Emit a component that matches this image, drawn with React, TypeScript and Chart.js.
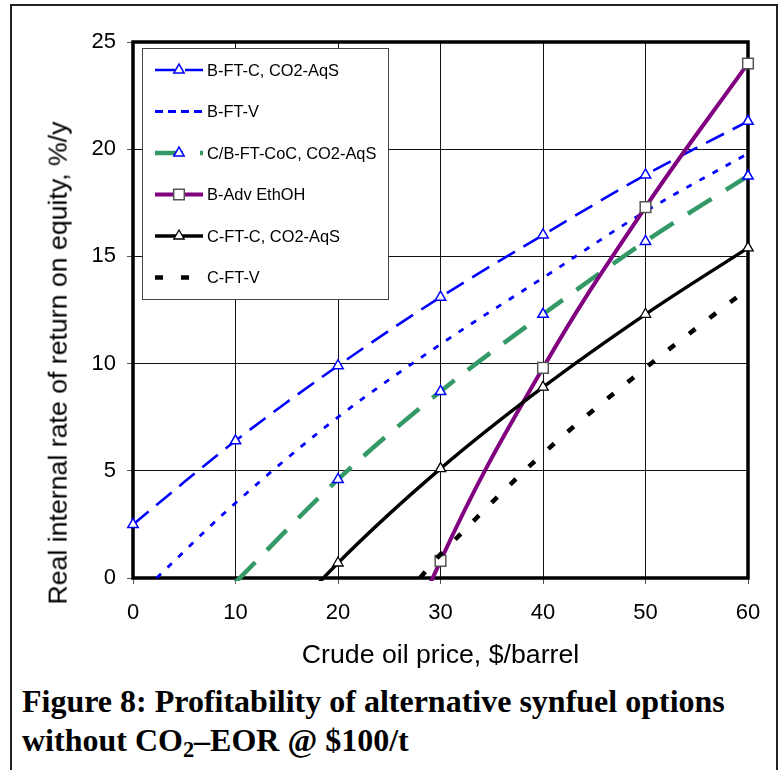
import React, { useEffect, useRef } from "react";
import { Chart, registerables } from "chart.js";

Chart.register(...registerables);

// ---------- data ----------
const seriesNames = [
  "B-FT-C, CO2-AqS",
  "B-FT-V",
  "C/B-FT-CoC, CO2-AqS",
  "B-Adv EthOH",
  "C-FT-C, CO2-AqS",
  "C-FT-V",
];

const bftcPrice = [0, 10, 20, 30, 40, 50, 60];
const bftcIrr = [2.5, 6.4, 9.9, 13.1, 16.0, 18.8, 21.3];

const bftvPrice = [2.3, 10, 20, 30, 40, 50, 60];
const bftvIrr = [0, 3.5, 7.5, 10.9, 14.0, 17.1, 19.8];

const cbPrice = [10, 20, 30, 40, 50, 60];
const cbIrr = [-0.2, 4.6, 8.7, 12.3, 15.7, 18.75];

const ethPrice = [20, 30, 40, 50, 60];
const ethIrr = [-11, 0.8, 9.8, 17.3, 24.0];

const cftcPrice = [10, 20, 30, 40, 50, 60];
const cftcIrr = [-4.5, 0.7, 5.1, 8.9, 12.3, 15.4];

const cftvPrice = [28, 30, 40, 50, 60];
const cftvIrr = [0, 1.1, 5.8, 9.8, 13.5];

const xMin = 0;
const xMax = 60;
const xStep = 10;
const yMin = 0;
const yMax = 25;
const yStep = 5;

const xTitle = "Crude oil price, $/barrel";
const yTitle = "Real internal rate of return on equity, %/y";

// ---------- helpers ----------
const pts = (xs: number[], ys: number[]) => xs.map((x, i) => ({ x, y: ys[i] }));
const radii = (ys: number[], r: number) => ys.map((y) => (y < 0.3 ? 0 : r));

const SANS = '"Liberation Sans", Arial, sans-serif';

function drawMarker(
  ctx: CanvasRenderingContext2D,
  style: string,
  x: number,
  y: number,
  r: number,
  stroke: string,
  fill: string,
  lw: number
) {
  ctx.save();
  ctx.setLineDash([]);
  ctx.beginPath();
  if (style === "triangle") {
    let rad = 0;
    ctx.moveTo(x + Math.sin(rad) * r, y - Math.cos(rad) * r);
    rad += (2 * Math.PI) / 3;
    ctx.lineTo(x + Math.sin(rad) * r, y - Math.cos(rad) * r);
    rad += (2 * Math.PI) / 3;
    ctx.lineTo(x + Math.sin(rad) * r, y - Math.cos(rad) * r);
    ctx.closePath();
  } else {
    const s = Math.SQRT1_2 * r;
    ctx.rect(x - s, y - s, 2 * s, 2 * s);
  }
  ctx.fillStyle = fill;
  ctx.fill();
  ctx.lineWidth = lw;
  ctx.strokeStyle = stroke;
  ctx.stroke();
  ctx.restore();
}

const frameBorderPlugin = {
  id: "frameBorder",
  beforeDatasetsDraw(chart: any) {
    const { ctx, chartArea } = chart;
    ctx.save();
    ctx.strokeStyle = "#000";
    ctx.lineWidth = 3.5;
    ctx.strokeRect(
      chartArea.left,
      chartArea.top,
      chartArea.right - chartArea.left,
      chartArea.bottom - chartArea.top
    );
    ctx.restore();
  },
};

const boxLegendPlugin = {
  id: "boxLegend",
  afterDraw(chart: any) {
    const ctx: CanvasRenderingContext2D = chart.ctx;
    const L = 142,
      T = 48,
      R = 388,
      B = 299;
    ctx.save();
    ctx.fillStyle = "#fff";
    ctx.fillRect(L, T, R - L, B - T);
    ctx.strokeStyle = "#444";
    ctx.lineWidth = 1;
    ctx.strokeRect(L + 0.5, T + 0.5, R - L, B - T);
    chart.data.datasets.forEach((ds: any, i: number) => {
      const y = 70 + i * 41.5;
      ctx.save();
      ctx.setLineDash(ds.legendDash || ds.borderDash || []);
      ctx.lineDashOffset = 0;
      ctx.strokeStyle = ds.borderColor;
      ctx.lineWidth = ds.borderWidth;
      ctx.beginPath();
      ctx.moveTo(155, y);
      ctx.lineTo(203, y);
      ctx.stroke();
      ctx.restore();
      if (ds.pointStyle && ds.showMarker) {
        drawMarker(
          ctx,
          ds.pointStyle,
          179,
          y,
          ds.legendMarkerRadius,
          ds.pointBorderColor,
          ds.pointBackgroundColor,
          ds.pointBorderWidth
        );
      }
      ctx.fillStyle = "#000";
      ctx.font = `16.4px ${SANS}`;
      ctx.textBaseline = "middle";
      ctx.textAlign = "left";
      ctx.fillText(ds.label, 207, y + 1);
    });
    ctx.restore();
  },
};

export default function App() {
  const canvasRef = useRef<HTMLCanvasElement>(null);

  useEffect(() => {
    const canvas = canvasRef.current;
    if (!canvas) return;
    const clip = { left: 12, top: 12, right: 12, bottom: 3 } as any;
    const chart = new Chart(canvas, {
      type: "line",
      data: {
        datasets: [
          {
            label: seriesNames[0],
            data: pts(bftcPrice, bftcIrr),
            borderColor: "#0000ff",
            borderWidth: 2.6,
            borderDash: [20, 10],
            pointStyle: "triangle",
            pointRadius: radii(bftcIrr, 6),
            pointBorderColor: "#0000ff",
            pointBackgroundColor: "#ffffff",
            pointBorderWidth: 1.5,
            tension: 0.35,
            clip,
            order: 6,
            showMarker: true,
            legendMarkerRadius: 6,
          } as any,
          {
            label: seriesNames[1],
            data: pts(bftvPrice, bftvIrr),
            borderColor: "#0000ff",
            borderWidth: 2.8,
            borderDash: [6, 9],
            legendDash: [8, 5],
            pointRadius: 0,
            tension: 0.35,
            clip,
            order: 5,
            showMarker: false,
          } as any,
          {
            label: seriesNames[2],
            data: pts(cbPrice, cbIrr),
            borderColor: "#339966",
            borderWidth: 4.5,
            borderDash: [28, 17],
            pointStyle: "triangle",
            pointRadius: radii(cbIrr, 6),
            pointBorderColor: "#0000ff",
            pointBackgroundColor: "#ffffff",
            pointBorderWidth: 1.5,
            tension: 0.35,
            clip,
            order: 4,
            showMarker: true,
            legendMarkerRadius: 6,
          } as any,
          {
            label: seriesNames[3],
            data: pts(ethPrice, ethIrr),
            borderColor: "#800080",
            borderWidth: 4,
            pointStyle: "rect",
            pointRadius: radii(ethIrr, 7.5),
            pointBorderColor: "#555555",
            pointBackgroundColor: "#ffffff",
            pointBorderWidth: 1.5,
            tension: 0.4,
            clip,
            order: 3,
            showMarker: true,
            legendMarkerRadius: 7.5,
          } as any,
          {
            label: seriesNames[4],
            data: pts(cftcPrice, cftcIrr),
            borderColor: "#000000",
            borderWidth: 3.4,
            pointStyle: "triangle",
            pointRadius: radii(cftcIrr, 6),
            pointBorderColor: "#000000",
            pointBackgroundColor: "#ffffff",
            pointBorderWidth: 1.3,
            tension: 0.35,
            clip,
            order: 2,
            showMarker: true,
            legendMarkerRadius: 6,
          } as any,
          {
            label: seriesNames[5],
            data: pts(cftvPrice, cftvIrr),
            borderColor: "#000000",
            borderWidth: 4.5,
            borderDash: [8, 18],
            pointRadius: 0,
            tension: 0.35,
            clip,
            order: 1,
            showMarker: false,
          } as any,
        ],
      },
      options: {
        responsive: false,
        animation: false,
        devicePixelRatio: 1,
        layout: { padding: { top: 42, right: 32, left: 0, bottom: 0 } },
        plugins: {
          legend: { display: false },
          tooltip: { enabled: false },
          title: { display: false },
        },
        scales: {
          x: {
            type: "linear",
            min: xMin,
            max: xMax,
            ticks: {
              stepSize: xStep,
              color: "#000",
              padding: 16,
              font: { family: SANS, size: 22 },
              maxRotation: 0,
            },
            grid: {
              color: "#111",
              lineWidth: 1,
              drawTicks: true,
              tickLength: 6,
              tickColor: "#555",
            },
            border: { display: false },
            title: {
              display: true,
              text: xTitle,
              color: "#000",
              font: { family: SANS, size: 26.7 },
              padding: { top: 0, bottom: 8 },
            },
            afterFit: (scale: any) => {
              scale.height = 102;
            },
          },
          y: {
            type: "linear",
            min: yMin,
            max: yMax,
            ticks: {
              stepSize: yStep,
              color: "#000",
              padding: 11,
              font: { family: SANS, size: 22 },
            },
            grid: {
              color: "#111",
              lineWidth: 1,
              drawTicks: true,
              tickLength: 6,
              tickColor: "#555",
            },
            border: { display: false },
            afterFit: (scale: any) => {
              scale.width = 133;
            },
          },
        },
      },
      plugins: [frameBorderPlugin, boxLegendPlugin],
    } as any);
    return () => chart.destroy();
  }, []);

  return (
    <div
      style={{
        position: "absolute",
        left: 0,
        top: 0,
        width: 780,
        height: 770,
        overflow: "hidden",
        background: "#fff",
      }}
    >
      <div
        style={{
          position: "absolute",
          left: 10,
          top: 4,
          width: 768,
          height: 800,
          border: "2px solid #222",
          boxSizing: "border-box",
        }}
      />
      <canvas
        ref={canvasRef}
        width={780}
        height={680}
        style={{ position: "absolute", left: 0, top: 0, width: 780, height: 680, display: "block" }}
      />
      <div
        style={{
          position: "absolute",
          left: 58,
          top: 362.5,
          transform: "translate(-50%, -50%) rotate(-90deg)",
          whiteSpace: "nowrap",
          fontFamily: SANS,
          fontSize: 26.7,
          lineHeight: "26.7px",
          color: "#000",
        }}
      >
        {yTitle}
      </div>
      <div
        style={{
          position: "absolute",
          left: 22,
          top: 682,
          fontFamily: '"Liberation Serif", "Times New Roman", serif',
          fontWeight: "bold",
          fontSize: 32,
          lineHeight: "39px",
          color: "#000",
          whiteSpace: "nowrap",
        }}
      >
        <div>Figure 8: Profitability of alternative synfuel options</div>
        <div>
          without CO
          <span style={{ fontSize: "0.7em", verticalAlign: "-0.28em", lineHeight: 0 }}>2</span>
          –EOR @ $100/t
        </div>
      </div>
    </div>
  );
}
